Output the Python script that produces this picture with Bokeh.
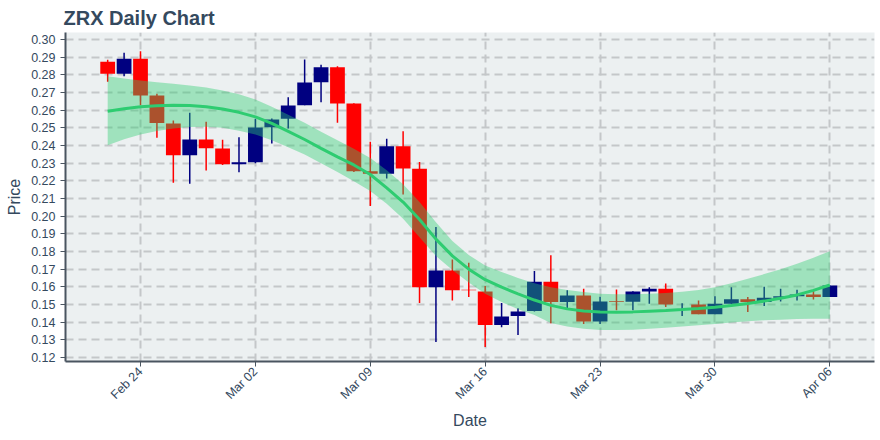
import math
import pandas as pd
from bokeh.plotting import figure
from bokeh.models import Range1d, FixedTicker, DatetimeTickFormatter, NumeralTickFormatter, ColumnDataSource
from bokeh.embed import file_html
from bokeh.resources import INLINE

# ---- data ----
start_date = "2020-02-22"
opens = [0.2875, 0.2806, 0.2892, 0.2683, 0.2525, 0.2345, 0.2434, 0.2383, 0.2294, 0.2305,
         0.2504, 0.2551, 0.2628, 0.2758, 0.2843, 0.2638, 0.2255, 0.2240, 0.2396, 0.2268,
         0.1598, 0.1693, 0.1583, 0.1574, 0.1383, 0.1434, 0.1463, 0.1629, 0.1514, 0.1551,
         0.1404, 0.1519, 0.1516, 0.1574, 0.1589, 0.1490, 0.1500, 0.1445, 0.1504, 0.1529,
         0.1514, 0.1538, 0.1547, 0.1556, 0.1542]
highs = [0.2885, 0.2925, 0.2934, 0.2693, 0.2542, 0.2585, 0.2534, 0.2432, 0.2447, 0.2552,
         0.2553, 0.2674, 0.2887, 0.2858, 0.2849, 0.2640, 0.2421, 0.2438, 0.2481, 0.2306,
         0.1938, 0.1755, 0.1736, 0.1604, 0.1508, 0.1479, 0.1689, 0.1779, 0.1580, 0.1589,
         0.1544, 0.1585, 0.1575, 0.1598, 0.1619, 0.1507, 0.1523, 0.1547, 0.1598, 0.1542,
         0.1600, 0.1589, 0.1583, 0.1576, 0.1608]
lows = [0.2761, 0.2792, 0.2628, 0.2444, 0.2189, 0.2183, 0.2259, 0.2289, 0.2249, 0.2300,
        0.2411, 0.2496, 0.2628, 0.2645, 0.2529, 0.2250, 0.2057, 0.2213, 0.2123, 0.1508,
        0.1287, 0.1523, 0.1542, 0.1259, 0.1371, 0.1327, 0.1460, 0.1393, 0.1476, 0.1389,
        0.1389, 0.1467, 0.1467, 0.1504, 0.1485, 0.1434, 0.1445, 0.1445, 0.1504, 0.1457,
        0.1491, 0.1517, 0.1523, 0.1528, 0.1542]
closes = [0.2806, 0.2892, 0.2683, 0.2527, 0.2345, 0.2434, 0.2385, 0.2294, 0.2305, 0.2502,
          0.2547, 0.2627, 0.2757, 0.2843, 0.2638, 0.2255, 0.2240, 0.2396, 0.2270, 0.1598,
          0.1693, 0.1581, 0.1580, 0.1383, 0.1432, 0.1460, 0.1629, 0.1514, 0.1551, 0.1404,
          0.1517, 0.1516, 0.1574, 0.1589, 0.1500, 0.1490, 0.1445, 0.1504, 0.1529, 0.1514,
          0.1538, 0.1547, 0.1556, 0.1542, 0.1608]
trend = [0.2594, 0.2608, 0.2619, 0.2625, 0.2628, 0.2626, 0.2620, 0.2607, 0.2588, 0.2562,
         0.2525, 0.2480, 0.2434, 0.2384, 0.2336, 0.2290, 0.2236, 0.2160, 0.2080, 0.1981,
         0.1870, 0.1775, 0.1700, 0.1640, 0.1598, 0.1560, 0.1525, 0.1495, 0.1475, 0.1463,
         0.1457, 0.1456, 0.1458, 0.1462, 0.1466, 0.1471, 0.1477, 0.1484, 0.1494, 0.1505,
         0.1519, 0.1535, 0.1554, 0.1580, 0.1610]
band_upper = [0.2792, 0.2780, 0.2768, 0.2758, 0.2750, 0.2740, 0.2728, 0.2712, 0.2690, 0.2660,
              0.2620, 0.2574, 0.2529, 0.2478, 0.2430, 0.2382, 0.2330, 0.2260, 0.2180, 0.2080,
              0.1965, 0.1860, 0.1780, 0.1720, 0.1684, 0.1650, 0.1620, 0.1598, 0.1582, 0.1570,
              0.1560, 0.1558, 0.1558, 0.1560, 0.1565, 0.1572, 0.1582, 0.1598, 0.1620, 0.1645,
              0.1672, 0.1700, 0.1730, 0.1765, 0.1802]
band_lower = [0.2402, 0.2435, 0.2462, 0.2482, 0.2497, 0.2505, 0.2507, 0.2500, 0.2484, 0.2462,
              0.2430, 0.2390, 0.2349, 0.2300, 0.2250, 0.2198, 0.2142, 0.2070, 0.1985, 0.1880,
              0.1775, 0.1695, 0.1625, 0.1560, 0.1514, 0.1473, 0.1440, 0.1395, 0.1375, 0.1362,
              0.1355, 0.1355, 0.1357, 0.1362, 0.1368, 0.1375, 0.1382, 0.1390, 0.1398, 0.1405,
              0.1410, 0.1414, 0.1417, 0.1419, 0.1419]
tick_dates = ["2020-02-24", "2020-03-02", "2020-03-09", "2020-03-16",
              "2020-03-23", "2020-03-30", "2020-04-06"]
y_ticks = [0.12, 0.13, 0.14, 0.15, 0.16, 0.17, 0.18, 0.19, 0.20, 0.21,
           0.22, 0.23, 0.24, 0.25, 0.26, 0.27, 0.28, 0.29, 0.30]

# ---- build ----
dates = pd.date_range(start_date, periods=len(opens), freq="D")
DAY = 86400000
inc_color = "#000080"
dec_color = "#ff0000"
colors = [inc_color if c >= o else dec_color for o, c in zip(opens, closes)]
src = ColumnDataSource(dict(
    date=dates, open=opens, close=closes, high=highs, low=lows,
    top=[max(o, c) for o, c in zip(opens, closes)],
    bottom=[min(o, c) for o, c in zip(opens, closes)],
    color=colors))
band_src = ColumnDataSource(dict(date=dates, trend=trend, upper=band_upper, lower=band_lower))

t0 = dates[0]
x_start = t0 - pd.Timedelta(days=2.57)
x_end = t0 + pd.Timedelta(days=46.72)

text_col = "#34495e"
p = figure(width=878, height=431, x_axis_type="datetime",
           output_backend="svg", toolbar_location=None,
           x_range=Range1d(x_start, x_end), y_range=Range1d(0.1177, 0.3040),
           min_border_left=65, min_border_right=4, min_border_top=23, min_border_bottom=60)

p.title.text = "ZRX Daily Chart"
p.title.text_font = "Liberation Sans"
p.title.text_font_size = "20px"
p.title.text_font_style = "bold"
p.title.text_color = text_col
p.title.offset = -2
p.title.standoff = 8

p.background_fill_color = "#ecf0f1"
p.border_fill_color = "white"
p.outline_line_color = None

p.segment(x0="date", y0="high", x1="date", y1="low", color="color", line_width=1.5, source=src)
p.vbar(x="date", width=0.9 * DAY, top="top", bottom="bottom", fill_color="color",
       line_color=None, source=src)
p.varea(x="date", y1="lower", y2="upper", fill_color="#2ecc71", fill_alpha=0.4, source=band_src)
p.line(x="date", y="trend", line_color="#2ecc71", line_width=3, source=band_src)

tick_ms = [pd.Timestamp(d).value // 10**6 for d in tick_dates]
p.xaxis.ticker = FixedTicker(ticks=tick_ms)
p.xaxis.formatter = DatetimeTickFormatter(days="%b %d", months="%b %d")
p.xaxis.major_label_orientation = math.pi / 4
p.yaxis.ticker = FixedTicker(ticks=y_ticks)
p.yaxis.formatter = NumeralTickFormatter(format="0.00")

for ax in (p.xaxis, p.yaxis):
    ax.axis_line_color = "#4a5560"
    ax.axis_line_width = 2
    ax.major_tick_line_color = "#4a5560"
    ax.major_tick_out = 5
    ax.major_tick_in = 0
    ax.minor_tick_line_color = None
    ax.major_label_text_font = "Liberation Sans"
    ax.major_label_text_font_size = "12.5px"
    ax.major_label_text_color = text_col
    ax.axis_label_text_font = "Liberation Sans"
    ax.axis_label_text_font_size = "16px"
    ax.axis_label_text_font_style = "normal"
    ax.axis_label_text_color = text_col
p.xaxis.major_label_standoff = 3
p.xaxis.axis_label_standoff = 2
p.xaxis.axis_label = "Date"
p.yaxis.axis_label = "Price"

for g in (p.xgrid, p.ygrid):
    g.grid_line_color = "#c4c7c9"
    g.grid_line_width = 2
    g.grid_line_dash = "8 5"

open("out.html", "w").write(file_html(p, INLINE))
